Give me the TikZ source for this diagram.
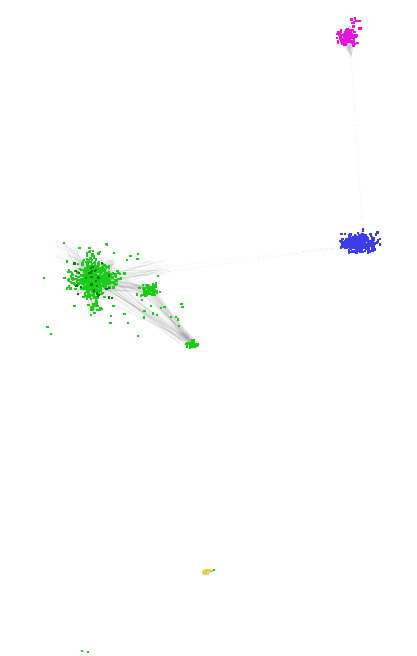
\documentclass[tikz,border=0pt]{standalone}
\definecolor{gn}{RGB}{25,205,25}
\definecolor{gnd}{RGB}{10,120,10}
\definecolor{bl}{RGB}{60,60,235}
\definecolor{mg}{RGB}{230,20,220}
\definecolor{yl}{RGB}{225,205,70}
\definecolor{ed}{RGB}{150,150,150}
\tikzset{
  edge/.style={draw=ed, line width=0.3pt, opacity=0.22},
  faint/.style={draw=ed, line width=0.4pt, dotted, opacity=0.6},
  gdot/.style={fill=gn},
  gdk/.style={fill=gnd}
}
% dots: cx cy sx sy n style
\newcommand\mydots[6]{%
  \foreach \i in {1,...,#5}{%
    \pgfmathsetmacro\dx{#3*(rand+rand)/2}%
    \pgfmathsetmacro\dy{#4*(rand+rand)/2}%
    \fill[#6] ({#1+\dx-1.1},{#2+\dy-1.1}) rectangle +(2.3,2.3);
  }}
% edges: ax ay asx asy bx by bsx bsy n
\newcommand\myedges[9]{%
  \foreach \i in {1,...,#9}{%
    \pgfmathsetmacro\ax{#1+#3*rand}%
    \pgfmathsetmacro\ay{#2+#4*rand}%
    \pgfmathsetmacro\bx{#5+#7*rand}%
    \pgfmathsetmacro\by{#6+#8*rand}%
    \draw[edge] (\ax,\ay) -- (\bx,\by);
  }}
\begin{document}
\begin{tikzpicture}[x=1pt,y=-1pt]
\useasboundingbox[fill=white] (0,0) rectangle (417,656);
\pgfmathsetseed{42}
% long faint connections
\coordinate (mgtail) at (351,56);
\coordinate (blapex) at (362,222);
\coordinate (blleft) at (342,247);
\coordinate (gnright) at (130,277);
\draw[faint] (mgtail) -- (blapex);
\draw[faint] (blleft) -- (gnright);
\draw[faint, opacity=0.4] (blleft) -- (120,272);
% ---- magenta cluster
\myedges{348}{40}{7}{5}{351}{52}{2}{5}{40}
\myedges{348}{38}{8}{6}{352}{30}{9}{8}{30}
\mydots{347}{37}{11}{9}{150}{fill=mg}
\mydots{355}{24}{8}{7}{12}{fill=mg}
% ---- blue cluster
\myedges{361}{236}{2}{6}{358}{244}{16}{7}{60}
\myedges{342}{247}{3}{2}{357}{243}{12}{6}{30}
\mydots{360}{243}{21}{11}{300}{fill=bl}
\mydots{348}{245}{8}{5}{30}{fill=bl}
\mydots{363}{233}{3}{7}{8}{fill=bl}
% ---- green main cluster edges
\myedges{95}{278}{20}{20}{95}{278}{20}{20}{220}
\myedges{95}{280}{14}{12}{150}{290}{8}{5}{45}
\myedges{95}{282}{14}{10}{185}{340}{6}{5}{30}
\myedges{150}{292}{6}{6}{190}{342}{5}{4}{30}
\myedges{92}{275}{12}{12}{65}{250}{12}{10}{25}
\myedges{100}{278}{10}{10}{160}{268}{10}{8}{25}
\myedges{92}{285}{8}{10}{95}{315}{8}{8}{30}
% green dots main
\mydots{95}{279}{34}{11}{220}{gdot}
\mydots{92}{281}{12}{36}{220}{gdot}
\mydots{95}{278}{18}{18}{220}{gdot}
\mydots{95}{280}{24}{24}{30}{gdk}
\mydots{95}{282}{75}{60}{45}{gdot}
\fill[black!70] (101,262) rectangle +(2,2);
% secondary clusters
\mydots{150}{290}{11}{7}{80}{gdot}
\mydots{165}{315}{28}{20}{12}{gdot}
\myedges{182}{335}{5}{4}{192}{344}{3}{3}{30}
\mydots{193}{344}{7}{5}{45}{gdot}
% ---- yellow cluster
\myedges{206}{574}{3}{2}{210}{572}{3}{2}{10}
\mydots{208}{573}{7}{4}{14}{fill=yl}
\fill[gn] (213,569) rectangle +(2,2);
% ---- two green dots
\fill[gn] (81,650) rectangle +(2,2);
\fill[gn] (87,651) rectangle +(2,2);
\draw[edge] (83,651) -- (87,652);
\end{tikzpicture}
\end{document}
